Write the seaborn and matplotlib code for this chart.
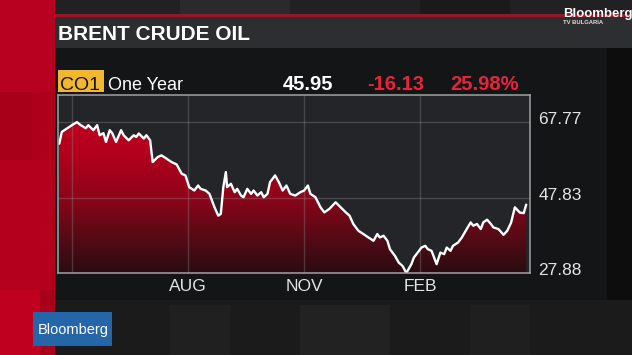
import numpy as np
import pandas as pd
import seaborn as sns
import matplotlib.pyplot as plt
import matplotlib.dates as mdates
from matplotlib.patches import Rectangle, PathPatch
from matplotlib.colors import LinearSegmentedColormap
from matplotlib.transforms import ScaledTranslation

# Brent crude, front month, one year
dates = ["2015-04-21", "2015-04-23", "2015-04-29", "2015-05-01", "2015-05-05", "2015-05-08",
         "2015-05-12", "2015-05-14", "2015-05-18", "2015-05-21", "2015-05-23", "2015-05-26",
         "2015-05-28", "2015-05-31", "2015-06-02", "2015-06-05", "2015-06-09", "2015-06-11",
         "2015-06-15", "2015-06-19", "2015-06-21", "2015-06-23", "2015-06-27", "2015-06-29",
         "2015-07-02", "2015-07-04", "2015-07-08", "2015-07-11", "2015-07-15", "2015-07-19",
         "2015-07-23", "2015-07-27", "2015-07-30", "2015-08-02", "2015-08-06", "2015-08-09",
         "2015-08-11", "2015-08-15", "2015-08-18", "2015-08-22", "2015-08-25", "2015-08-27",
         "2015-08-29", "2015-08-31", "2015-09-01", "2015-09-04", "2015-09-07", "2015-09-09",
         "2015-09-12", "2015-09-14", "2015-09-17", "2015-09-20", "2015-09-22", "2015-09-25",
         "2015-09-28", "2015-09-30", "2015-10-03", "2015-10-05", "2015-10-09", "2015-10-12",
         "2015-10-15", "2015-10-18", "2015-10-21", "2015-10-25", "2015-10-29", "2015-11-01",
         "2015-11-04", "2015-11-06", "2015-11-10", "2015-11-14", "2015-11-17", "2015-11-21",
         "2015-11-26", "2015-11-30", "2015-12-04", "2015-12-07", "2015-12-10", "2015-12-14",
         "2015-12-18", "2015-12-22", "2015-12-26", "2015-12-29", "2015-12-31", "2016-01-03",
         "2016-01-06", "2016-01-08", "2016-01-12", "2016-01-15", "2016-01-18", "2016-01-21",
         "2016-01-25", "2016-01-27", "2016-02-02", "2016-02-05", "2016-02-07", "2016-02-10",
         "2016-02-14", "2016-02-17", "2016-02-20", "2016-02-22", "2016-02-25", "2016-02-27",
         "2016-03-02", "2016-03-05", "2016-03-09", "2016-03-12", "2016-03-14", "2016-03-17",
         "2016-03-20", "2016-03-22", "2016-03-25", "2016-03-28", "2016-03-30", "2016-04-03",
         "2016-04-07", "2016-04-10", "2016-04-13", "2016-04-16", "2016-04-20", "2016-04-23",
         "2016-04-25"]
prices = [62.08, 65.19, 66.52, 66.97, 67.77, 66.97,
          66.17, 66.97, 65.64, 66.97, 64.31, 64.85,
          62.53, 65.64, 64.85, 62.53, 65.64, 64.31,
          62.98, 64.31, 63.86, 64.77, 63.44, 64.31,
          62.98, 57.21, 58.54, 58.99, 58.12, 57.21,
          56.60, 54.13, 53.68, 50.57, 49.69, 51.02,
          50.14, 49.69, 48.81, 45.25, 43.04, 43.50,
          50.57, 54.56, 50.57, 51.47, 49.24, 50.14,
          48.36, 47.91, 50.14, 48.81, 49.69, 48.36,
          49.24, 47.91, 48.81, 51.90, 53.68, 51.90,
          49.69, 51.02, 48.81, 48.36, 49.24, 49.69,
          51.02, 48.81, 47.91, 45.25, 43.92, 44.82,
          46.58, 45.25, 43.92, 43.04, 40.84, 39.05,
          38.18, 37.27, 36.40, 38.18, 37.27, 37.73,
          36.40, 34.19, 32.41, 30.63, 29.75, 27.88,
          30.20, 31.96, 34.61, 35.07, 34.19, 33.74,
          30.20, 33.29, 32.86, 34.61, 33.74, 35.07,
          35.94, 37.27, 39.59, 41.26, 40.38, 40.84,
          39.50, 41.26, 41.98, 40.84, 39.93, 39.50,
          37.99, 39.05, 41.18, 45.25, 43.84, 43.71,
          45.95]

tick_dates = ["2015-05-01", "2015-08-01", "2015-11-01", "2016-02-01"]
tick_labels = ["", "AUG", "NOV", "FEB"]
y_ticks = [27.88, 47.83, 67.77]

title = "BRENT CRUDE OIL"
ticker = "CO1"
period = "One Year"
last_px, net_chg, pct_chg = "45.95", "-16.13", "25.98%"

df = pd.DataFrame({"date": pd.to_datetime(dates), "price": prices})

sns.set_theme(style="dark")
plt.rcParams["font.family"] = ["Liberation Sans", "DejaVu Sans"]

W, H = 632, 355
fig = plt.figure(figsize=(W / 100, H / 100), dpi=100)
fig.patch.set_facecolor("#141517")

# ---- background decoration (pixel coordinates) ----
bg = fig.add_axes([0, 0, 1, 1], zorder=-5)
bg.set_xlim(0, W)
bg.set_ylim(H, 0)
bg.axis("off")


def box(x, y, w, h, c, **kw):
    bg.add_patch(Rectangle((x, y), w, h, facecolor=c, edgecolor="none", **kw))


box(0, 0, W, H, "#141517")
box(55, 0, W - 55, 16, "#212123")
box(180, 0, 110, 16, "#2a2a2c")
box(420, 0, 90, 16, "#1a1a1b")
box(52, 14, W - 52, 3, "#9a1526")
box(52, 17, W - 52, 31, "#2d2e30")
box(607, 48, 25, 252, "#0d0d0e")
box(52, 300, W - 52, 55, "#1b1b1c")
box(170, 305, 60, 50, "#202021")
box(300, 305, 90, 50, "#222223")
box(470, 305, 60, 50, "#1f1f20")
# red strip on the left
box(0, 0, 55, H, "#b3001c")
box(0, 0, 55, 92, "#b80020")
box(0, 92, 32, 68, "#a9001a")
box(32, 92, 23, 68, "#ae001b")
box(0, 160, 55, 130, "#b5001d")
box(0, 290, 40, 65, "#bf001f")
box(40, 290, 15, 65, "#a8001a")
# Bloomberg logo box
box(33, 312, 79, 34, "#2566a8")

# ---- chart ----
x0 = mdates.date2num(pd.Timestamp("2015-04-20"))
x1 = mdates.date2num(pd.Timestamp("2016-04-28"))
ylo, yhi = 27.88, 74.95

ax = fig.add_axes([58 / W, 1 - 273 / H, (530 - 58) / W, (273 - 95) / H])
ax.set_facecolor("#232528")

poly = ax.fill_between(df["date"], df["price"], ylo, color="none", linewidth=0)
clip = PathPatch(poly.get_paths()[0], transform=ax.transData,
                 facecolor="none", edgecolor="none")
ax.add_patch(clip)
cmap = LinearSegmentedColormap.from_list(
    "brent", ["#2a0c11", "#5c0a16", "#92041a", "#b3001c", "#c0001e"])
grad = np.linspace(0, 1, 256).reshape(-1, 1)
im = ax.imshow(grad, extent=[x0, x1, ylo, 70], origin="lower",
               aspect="auto", cmap=cmap, zorder=1)
im.set_clip_path(clip)

sns.lineplot(data=df, x="date", y="price", color="white", linewidth=1.7,
             ax=ax, zorder=4)

ax.set_xlim(x0, x1)
ax.set_ylim(ylo, yhi)
ax.set_xticks(pd.to_datetime(tick_dates))
ax.set_xticklabels(tick_labels)
ax.set_yticks(y_ticks)
ax.set_yticklabels([f"{v:.2f}" for v in y_ticks])
ax.yaxis.tick_right()
ax.set_xlabel("")
ax.set_ylabel("")
ax.grid(True, color="#9a9c9f", alpha=0.3, linewidth=1.0, zorder=3)
ax.set_axisbelow(False)
ax.tick_params(axis="x", length=0, pad=4, labelsize=12.5, colors="#e4e4e4")
ax.tick_params(axis="y", length=0, pad=6, labelsize=12.5, colors="#e4e4e4")
for lab in ax.get_yticklabels():
    lab.set_transform(lab.get_transform() + ScaledTranslation(0, 4 / 100, fig.dpi_scale_trans))
for s in ax.spines.values():
    s.set_visible(True)
    s.set_color("#a0a1a3")
    s.set_linewidth(1.1)
    s.set_zorder(5)

# ---- header texts ----
def ftext(px, py, s, **kw):
    fig.text(px / W, 1 - py / H, s, va="baseline", ha="left", **kw)


ftext(58, 40, title, fontsize=15, fontweight="bold", color="white")
fig.patches.append(Rectangle((58 / W, 1 - 92 / H), 46 / W, 22 / H,
                             transform=fig.transFigure, facecolor="#f2b630",
                             edgecolor="none", zorder=1))
ftext(60, 90, ticker, fontsize=14, color="#161616")
ftext(108, 90, period, fontsize=13, color="white")
ftext(283, 90, last_px, fontsize=14.5, fontweight="bold", color="white")
ftext(367, 90, net_chg, fontsize=14.5, fontweight="bold", color="#e8243a")
ftext(450, 90, pct_chg, fontsize=14.5, fontweight="bold", color="#e8243a")

# logos
ftext(38, 334, "Bloomberg", fontsize=10.5, color="white")
ftext(563, 17, "Bloomberg", fontsize=9.5, color="white", fontweight="bold")
ftext(563, 23.5, "TV BULGARIA", fontsize=4.2, color="#dddddd", fontweight="bold")

fig.savefig("out.png", dpi=100, facecolor=fig.get_facecolor())
